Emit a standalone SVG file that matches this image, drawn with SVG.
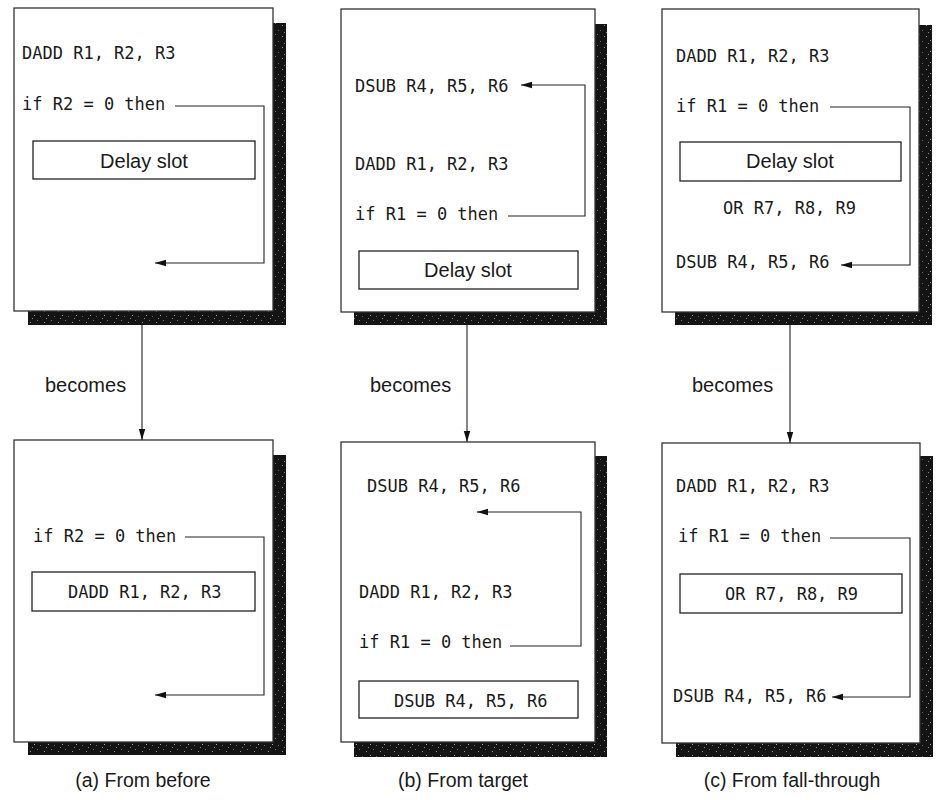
<svg xmlns="http://www.w3.org/2000/svg" width="950" height="800" viewBox="0 0 950 800">
<defs>
<pattern id="speck" width="14" height="11" patternUnits="userSpaceOnUse">
<rect width="14" height="11" fill="#141414"/>
<rect x="2" y="3" width="1" height="1" fill="#9a9a9a"/>
<rect x="9" y="1" width="1" height="1" fill="#777"/>
<rect x="6" y="7" width="1" height="1" fill="#aaa"/>
<rect x="12" y="8" width="1" height="1" fill="#666"/>
<rect x="4" y="10" width="1" height="1" fill="#888"/>
</pattern>
<marker id="ah" markerWidth="12" markerHeight="8" refX="11" refY="4" orient="auto" markerUnits="userSpaceOnUse">
<path d="M0,0.8 L11,4 L0,7.2 Z" fill="#111"/>
</marker>
<style>
.shadow{fill:url(#speck);}
.panel{fill:#fff;stroke:#333;stroke-width:1.3;}
.slot{fill:#fff;stroke:#222;stroke-width:1.3;}
.mono{font-family:"DejaVu Sans Mono","Liberation Mono",monospace;font-size:17px;fill:#1a1a1a;}
.sans{font-family:"Liberation Sans",Arial,sans-serif;font-size:20px;fill:#1a1a1a;}
.cap{font-family:"Liberation Sans",Arial,sans-serif;font-size:19.5px;fill:#1a1a1a;text-anchor:middle;}
.mid{text-anchor:middle;}
.conn{fill:none;stroke:#222;stroke-width:1.1;}
</style>
</defs>

<g id="panel-a-top">
<rect class="shadow" x="28" y="23" width="258" height="302"/>
<rect class="panel" x="14" y="8" width="259" height="303"/>
<text class="mono" x="22" y="59">DADD R1, R2, R3</text>
<text class="mono" x="22" y="110">if R2 = 0 then</text>
<rect class="slot" x="33" y="141" width="222" height="38"/>
<text class="sans mid" x="144" y="168">Delay slot</text>
</g>

<g id="panel-b-top">
<rect class="shadow" x="354" y="24" width="253" height="301"/>
<rect class="panel" x="341" y="9" width="254" height="303"/>
<text class="mono" x="355" y="92">DSUB R4, R5, R6</text>
<text class="mono" x="355" y="170">DADD R1, R2, R3</text>
<text class="mono" x="355" y="220">if R1 = 0 then</text>
<rect class="slot" x="359" y="251" width="219" height="38"/>
<text class="sans mid" x="468" y="277">Delay slot</text>
</g>

<g id="panel-c-top">
<rect class="shadow" x="675" y="25" width="257" height="300"/>
<rect class="panel" x="662" y="9" width="257" height="303"/>
<text class="mono" x="676" y="62">DADD R1, R2, R3</text>
<text class="mono" x="676" y="112">if R1 = 0 then</text>
<rect class="slot" x="680" y="142" width="221" height="39"/>
<text class="sans mid" x="790" y="168">Delay slot</text>
<text class="mono" x="723" y="214">OR R7, R8, R9</text>
<text class="mono" x="676" y="268">DSUB R4, R5, R6</text>
</g>

<g id="label-becomes">
<text class="sans" x="45" y="392">becomes</text>
<text class="sans" x="370" y="392">becomes</text>
<text class="sans" x="692" y="392">becomes</text>
</g>

<g id="panel-a-bottom">
<rect class="shadow" x="28" y="455" width="258" height="300"/>
<rect class="panel" x="14" y="440" width="259" height="302"/>
<text class="mono" x="33" y="542">if R2 = 0 then</text>
<rect class="slot" x="32" y="572" width="223" height="39"/>
<text class="mono" x="68" y="598">DADD R1, R2, R3</text>
</g>

<g id="panel-b-bottom">
<rect class="shadow" x="354" y="456" width="253" height="301"/>
<rect class="panel" x="341" y="442" width="254" height="300"/>
<text class="mono" x="367" y="492">DSUB R4, R5, R6</text>
<text class="mono" x="359" y="598">DADD R1, R2, R3</text>
<text class="mono" x="359" y="648">if R1 = 0 then</text>
<rect class="slot" x="359" y="681" width="219" height="37"/>
<text class="mono" x="394" y="707">DSUB R4, R5, R6</text>
</g>

<g id="panel-c-bottom">
<rect class="shadow" x="676" y="456" width="257" height="301"/>
<rect class="panel" x="662" y="443" width="258" height="300"/>
<text class="mono" x="676" y="492">DADD R1, R2, R3</text>
<text class="mono" x="678" y="542">if R1 = 0 then</text>
<rect class="slot" x="680" y="574" width="222" height="39"/>
<text class="mono" x="725" y="600">OR R7, R8, R9</text>
<text class="mono" x="673" y="702">DSUB R4, R5, R6</text>
</g>

<g id="captions">
<text class="cap" x="143" y="787">(a) From before</text>
<text class="cap" x="463" y="787">(b) From target</text>
<text class="cap" x="792" y="787">(c) From fall-through</text>
</g>

<g id="connectors">
<path class="conn" d="M175,106 H264 V263 H155" marker-end="url(#ah)"/>
<path class="conn" d="M508,216 H585 V85 H521" marker-end="url(#ah)"/>
<path class="conn" d="M830,107 H910 V265 H841" marker-end="url(#ah)"/>
<path class="conn" d="M142,325 V440" marker-end="url(#ah)"/>
<path class="conn" d="M467,325 V442" marker-end="url(#ah)"/>
<path class="conn" d="M790,325 V443" marker-end="url(#ah)"/>
<path class="conn" d="M185,537 H264 V695 H155" marker-end="url(#ah)"/>
<path class="conn" d="M510,646 H581 V512 H477" marker-end="url(#ah)"/>
<path class="conn" d="M830,538 H910 V697 H832" marker-end="url(#ah)"/>
</g>
</svg>
